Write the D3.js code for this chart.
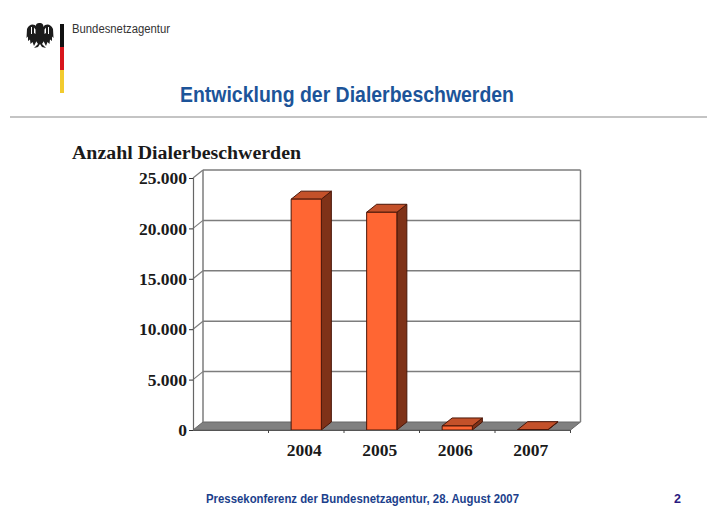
<!DOCTYPE html>
<html>
<head>
<meta charset="utf-8">
<script src="https://cdn.jsdelivr.net/npm/d3@7"></script>
<style>
  html, body { margin: 0; padding: 0; background: #fff; }
  svg { display: block; }
</style>
</head>
<body>
<svg id="slide" width="707" height="506"></svg>
<script>
// Annual complaint counts; the leading empty slot keeps the first band free.
const categories = ["", "2004", "2005", "2006", "2007"];
const complaints = [null, 22900, 21600, 400, 30];
const tickValues = [0, 5000, 10000, 15000, 20000, 25000];
const tickLabels = ["0", "5.000", "10.000", "15.000", "20.000", "25.000"];

const svg = d3.select("#slide");
const serif = "'Liberation Serif', serif";
const sans = "'Liberation Sans', Arial, sans-serif";

// Depth of the pseudo-3D box
const depthX = 10, depthY = -8;

const x = d3.scaleBand().domain(categories).range([193, 570.5]).paddingInner(0).paddingOuter(0);
const y = d3.scaleLinear().domain([0, 25000]).range([430, 178]);
const barWidth = x.bandwidth() * 0.4;

// Letterhead: federal eagle, tricolour rule, agency name
const eagle = svg.append("g").attr("transform", "translate(40,36)").attr("fill", "#1c1c1c");
eagle.append("path").attr("d",
  "M-1,-13 C3,-13 4,-11 3,-8 L4,-4 L4,5 L2,8 L6,12 L2,11 L0,8 L-2,11 L-6,12 L-2,8 L-4,5 L-4,-4 L-3,-8 C-5,-10 -4,-13 -1,-13Z");
[1, -1].forEach(side => {
  eagle.append("path")
    .attr("transform", `scale(${side},1)`)
    .attr("d", "M3,-9 C6,-13 11,-12 13,-7 L13.5,2 L12,0.5 L12,5 L10,3.5 L9.5,8 L7.5,6 L6,10 L3,4Z");
  eagle.append("path")
    .attr("transform", `scale(${side},1)`)
    .attr("fill", "#fff")
    .attr("d", "M4.5,-6.5 L6,-8.5 L6,-3 L4.5,-2Z M8,-9 L9,-9 L9,-2 L8,-2Z");
});

const flag = [["#111111", 24, 47], ["#d8161c", 47, 70], ["#f2cb2e", 70, 93]];
svg.append("g").selectAll("rect").data(flag).join("rect")
  .attr("x", 60).attr("width", 4)
  .attr("y", d => d[1]).attr("height", d => d[2] - d[1])
  .attr("fill", d => d[0]);

svg.append("text").attr("x", 72).attr("y", 33)
  .attr("font-family", sans).attr("font-size", 12)
  .attr("textLength", 98).attr("lengthAdjust", "spacingAndGlyphs")
  .attr("fill", "#333").text("Bundesnetzagentur");

svg.append("text").attr("x", 180).attr("y", 102)
  .attr("font-family", sans).attr("font-weight", "bold").attr("font-size", 22)
  .attr("textLength", 334).attr("lengthAdjust", "spacingAndGlyphs")
  .attr("fill", "#1c5499").text("Entwicklung der Dialerbeschwerden");

svg.append("rect").attr("x", 10).attr("y", 116).attr("width", 697).attr("height", 2).attr("fill", "#c4c4c4");

svg.append("text").attr("x", 72).attr("y", 158.5)
  .attr("font-family", serif).attr("font-weight", "bold").attr("font-size", 18)
  .attr("textLength", 229).attr("lengthAdjust", "spacingAndGlyphs")
  .attr("fill", "#1a1a1a").text("Anzahl Dialerbeschwerden");

// Chart box: back wall, gridlines, side wall and floor
const chart = svg.append("g");
const wall = "#7d7d7d";
const [x0, x1] = x.range();
const yBase = y(0), yTop = y(25000);

chart.append("path")
  .attr("d", `M${x0},${yBase} L${x0 + depthX},${yBase + depthY} L${x1 + depthX},${yBase + depthY} L${x1},${yBase}Z`)
  .attr("fill", "#808080").attr("stroke", "#666").attr("stroke-width", 1);

chart.selectAll("line.grid").data(tickValues.slice(1)).join("line")
  .attr("class", "grid")
  .attr("x1", x0 + depthX).attr("x2", x1 + depthX)
  .attr("y1", d => y(d) + depthY).attr("y2", d => y(d) + depthY)
  .attr("stroke", wall).attr("stroke-width", 1.5);

chart.selectAll("line.side").data(tickValues.slice(1)).join("line")
  .attr("class", "side")
  .attr("x1", x0).attr("x2", x0 + depthX)
  .attr("y1", d => y(d)).attr("y2", d => y(d) + depthY)
  .attr("stroke", wall).attr("stroke-width", 1.2);

// Back-wall verticals and the front value axis
chart.append("path")
  .attr("d", `M${x0 + depthX},${yBase + depthY} V${yTop + depthY}`)
  .attr("stroke", wall).attr("stroke-width", 1.5).attr("fill", "none");
chart.append("path")
  .attr("d", `M${x1 + depthX},${yBase + depthY} V${yTop + depthY}`)
  .attr("stroke", wall).attr("stroke-width", 1.5).attr("fill", "none");

const yAxis = d3.axisLeft(y).tickValues(tickValues).tickSize(4).tickPadding(2)
  .tickFormat((d, i) => tickLabels[i]);
const yAxisG = svg.append("g").attr("transform", `translate(${x0},0)`).call(yAxis);
yAxisG.select(".domain").attr("stroke", "#666").attr("stroke-width", 1.2);
yAxisG.selectAll(".tick line").attr("stroke", "#333");
yAxisG.selectAll("text")
  .attr("font-family", serif).attr("font-weight", "bold").attr("font-size", 17.5).attr("fill", "#1a1a1a");

// Bars: side face, top face, front face
const barX = d => x(d.year) + (x.bandwidth() - barWidth) / 2;
const barData = categories.map((year, i) => ({ year, value: complaints[i] })).filter(d => d.value !== null);
const bars = chart.selectAll("g.bar").data(barData).join("g").attr("class", "bar")
  .attr("stroke", "#4a1608").attr("stroke-width", 1).attr("stroke-linejoin", "round");

bars.append("path").attr("fill", "#7f3218").attr("d", d => {
  const r = barX(d) + barWidth, t = y(d.value);
  return `M${r},${yBase} L${r},${t} L${r + depthX},${t + depthY} L${r + depthX},${yBase + depthY}Z`;
});
bars.append("path").attr("fill", "#c4512a").attr("d", d => {
  const l = barX(d), t = y(d.value);
  return `M${l},${t} L${l + depthX},${t + depthY} L${l + barWidth + depthX},${t + depthY} L${l + barWidth},${t}Z`;
});
bars.append("rect").attr("fill", "#ff6633")
  .attr("x", barX).attr("width", barWidth)
  .attr("y", d => y(d.value)).attr("height", d => yBase - y(d.value));

// Category axis, labels sit under the bars
const xAxis = d3.axisBottom(x).tickSize(0).tickPadding(14);
const xAxisG = svg.append("g").attr("transform", `translate(0,${yBase})`).call(xAxis);
xAxisG.select(".domain").attr("stroke", "#555").attr("stroke-width", 1);
xAxisG.selectAll("text")
  .attr("dx", -2)
  .attr("font-family", serif).attr("font-weight", "bold").attr("font-size", 17.5).attr("fill", "#1a1a1a");

svg.append("g").selectAll("line").data(categories.map((c, i) => i === 0 ? x1 : x(c))).join("line")
  .attr("x1", d => d).attr("x2", d => d)
  .attr("y1", yBase).attr("y2", yBase + 3)
  .attr("stroke", "#444");

// Footer
svg.append("text").attr("x", 206).attr("y", 503)
  .attr("font-family", sans).attr("font-weight", "bold").attr("font-size", 12.5)
  .attr("textLength", 313).attr("lengthAdjust", "spacingAndGlyphs")
  .attr("fill", "#1c3f8c").text("Pressekonferenz der Bundesnetzagentur, 28. August 2007");
svg.append("text").attr("x", 674).attr("y", 503)
  .attr("font-family", sans).attr("font-weight", "bold").attr("font-size", 12.5)
  .attr("fill", "#2a1a80").text("2");
</script>
</body>
</html>
